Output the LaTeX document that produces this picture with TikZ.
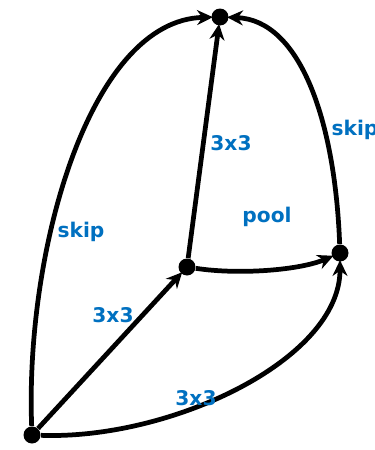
\documentclass[tikz,border=0pt]{standalone}
\usepackage{fontspec}
\setsansfont{DejaVu Sans}
\usetikzlibrary{arrows.meta}
\definecolor{lblue}{RGB}{0,112,192}

\begin{document}
\begin{tikzpicture}[x=0.02cm, y=-0.02cm,
	dot/.style={circle, fill=black, inner sep=0pt, minimum size=0.34cm},
	link/.style={line width=2.7pt, -{Stealth[length=9pt, width=8.5pt]}, shorten >=-1pt},
	lbl/.style={text=lblue, font=\sffamily\bfseries\fontsize{11.5}{13}\selectfont}]
	\useasboundingbox (0,0) rectangle (375,450);
	\node[dot] (b1) at (32,435) {};
	\node[dot] (m1) at (187,267) {};
	\node[dot] (r1) at (340,253) {};
	\node[dot] (t1) at (220,17) {};

	\draw[link] (b1) .. controls (25,250) and (90,20) .. (t1);
	\draw[link] (m1) -- (t1);
	\draw[link] (r1) .. controls (335,120) and (300,20) .. (t1);
	\draw[link] (m1) .. controls (240,275) and (300,270) .. (r1);
	\draw[link] (b1) -- (m1);
	\draw[link] (b1) .. controls (170,440) and (340,360) .. (r1);

	\node[lbl] (s1) at (81,232) {skip};
	\node[lbl] (s2) at (355,130) {skip};
	\node[lbl] (c1) at (231,143) {3x3};
	\node[lbl] (p1) at (267,217) {pool};
	\node[lbl] (c2) at (113,315) {3x3};
	\node[lbl] (c3) at (196,398) {3x3};
\end{tikzpicture}
\end{document}
